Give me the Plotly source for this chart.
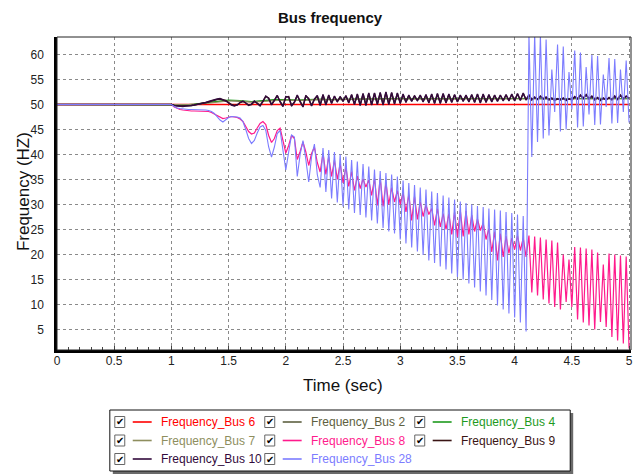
import numpy as np
import plotly.graph_objects as go

# ---------------- data ----------------
# sample times: t=0 plus a 0.025 s grid from 1.0 s to 5.0 s
t_fast = [0.0] + [round(v, 3) for v in np.linspace(1.0, 5.0, 161)]
# coarse grid (0.1 s) for the smooth buses
t_slow = [0.0] + [round(v, 2) for v in np.linspace(1.0, 5.0, 41)]

bus_6_t = [0.0, 5.0]
bus_6 = [50.0, 50.0]

bus_2 = [50.0,
         50.0, 49.8, 50.0, 50.3, 50.6, 50.8, 50.6, 50.5, 50.7, 50.9,
         50.9, 50.8, 50.9, 51.0, 51.0, 51.0, 51.1, 51.1, 51.1, 51.2,
         51.2, 51.1, 51.2, 51.2, 51.1, 51.2, 51.2, 51.2, 51.2, 51.2,
         51.3, 51.2, 51.2, 51.1, 51.2, 51.2, 51.2, 51.3, 51.2, 51.2,
         51.2]
bus_4 = [50.0,
         50.0, 49.9, 50.1, 50.4, 50.7, 50.9, 50.8, 50.6, 50.8, 51.0,
         51.0, 50.9, 51.0, 51.1, 51.0, 51.1, 51.1, 51.1, 51.2, 51.2,
         51.2, 51.2, 51.2, 51.2, 51.2, 51.2, 51.2, 51.2, 51.2, 51.3,
         51.3, 51.3, 51.2, 51.2, 51.2, 51.2, 51.3, 51.3, 51.2, 51.2,
         51.2]
bus_7 = [50.0,
         50.0, 49.9, 50.0, 50.2, 50.5, 50.7, 50.7, 50.5, 50.6, 50.8,
         50.9, 50.8, 50.9, 51.0, 50.9, 51.0, 51.0, 51.1, 51.1, 51.1,
         51.1, 51.1, 51.1, 51.1, 51.1, 51.2, 51.1, 51.1, 51.2, 51.2,
         51.2, 51.2, 51.1, 51.1, 51.1, 51.2, 51.2, 51.2, 51.1, 51.1,
         51.1]

bus_8 = [50.0,
         50.0, 49.5, 49.2, 49.0, 48.9, 48.8, 48.8, 48.7, 48.7, 48.7,
         48.7, 48.7, 48.6, 48.6, 48.4, 48.1, 47.7, 47.4, 47.2, 47.3,
         47.5, 47.6, 47.5, 47.4, 47.1, 46.6, 45.6, 44.6, 44.1, 44.3,
         45.3, 46.2, 46.6, 46.0, 43.8, 42.4, 43.2, 44.8, 45.3, 42.8,
         40.3, 41.8, 43.8, 43.2, 39.0, 40.6, 42.5, 40.5, 37.8, 40.2,
         41.5, 38.4, 36.5, 40.3, 36.0, 39.6, 35.6, 38.9, 35.0, 38.2,
         34.3, 37.5, 33.6, 36.6, 32.8, 35.7, 33.2, 35.1, 33.5, 34.9,
         31.8, 35.2, 29.8, 35.3, 29.6, 34.4, 30.0, 33.4, 30.5, 32.8,
         30.0, 32.4, 28.5, 32.0, 26.8, 31.6, 27.0, 30.6, 27.6, 29.9,
         28.0, 29.2, 25.8, 29.2, 25.5, 28.2, 25.0, 28.2, 24.0, 28.5,
         23.5, 28.8, 23.6, 28.7, 24.0, 27.9, 24.6, 27.1, 24.8, 26.3,
         23.0, 25.2, 20.5, 24.6, 18.8, 24.2, 19.5, 23.7, 20.2, 23.3,
         21.0, 23.8, 20.8, 23.3, 19.5, 23.8, 12.4, 23.6, 11.8, 23.4,
         11.0, 23.0, 10.2, 22.8, 9.5, 22.4, 9.0, 20.0, 10.5, 19.0,
         9.5, 21.5, 7.0, 21.4, 6.4, 21.2, 5.8, 21.0, 5.0, 20.4,
         6.5, 18.0, 5.5, 20.2, 3.5, 20.0, 2.8, 19.8, 2.2, 19.6,
         1.2]

bus_9 = [50.0,
         50.0, 49.8, 49.7, 49.7, 49.7, 49.7, 49.7, 49.8, 49.9, 50.0,
         50.1, 50.2, 50.3, 50.5, 50.7, 50.9, 51.0, 51.1, 51.0, 50.8,
         50.4, 50.0, 49.8, 49.9, 50.4, 50.6, 50.3, 49.9, 50.0, 50.6,
         50.3, 49.8, 50.6, 51.6, 51.3, 50.0, 50.8, 51.8, 50.6, 49.7,
         51.5, 51.6, 49.8, 50.4, 51.8, 50.6, 49.6, 51.7, 51.2, 49.8,
         51.0, 51.7, 49.9, 51.9, 50.0, 51.8, 50.3, 51.6, 50.6, 51.5,
         50.7, 51.7, 50.4, 51.9, 50.1, 52.0, 49.9, 52.1, 49.9, 52.2,
         50.0, 52.2, 50.1, 52.3, 50.0, 52.4, 50.1, 52.3, 50.2, 52.2,
         50.3, 52.0, 50.5, 51.8, 50.7, 51.7, 50.8, 51.8, 50.6, 51.9,
         50.4, 52.0, 50.3, 52.1, 50.3, 52.1, 50.4, 52.0, 50.5, 51.9,
         50.6, 51.8, 50.7, 51.8, 50.6, 51.9, 50.5, 52.0, 50.4, 52.0,
         50.5, 51.9, 50.6, 51.8, 50.7, 51.8, 50.8, 51.9, 50.8, 52.0,
         50.8, 52.1, 50.9, 52.2, 51.0, 51.8, 51.0, 51.4, 51.1, 51.6,
         51.2, 51.4, 51.0, 51.2, 50.9, 51.1, 51.0, 51.2, 50.9, 51.1,
         51.0, 51.5, 51.2, 51.8, 51.3, 51.9, 51.2, 51.6, 51.0, 51.3,
         50.9, 51.2, 51.0, 51.3, 51.0, 51.6, 51.1, 51.8, 51.2, 51.6,
         51.3]

bus_10 = [50.0,
          50.0, 49.8, 49.7, 49.6, 49.6, 49.7, 49.7, 49.8, 49.9, 50.0,
          50.1, 50.2, 50.4, 50.6, 50.8, 50.9, 51.1, 51.2, 51.0, 50.7,
          50.3, 49.9, 49.7, 49.9, 50.4, 50.7, 50.3, 49.8, 50.1, 50.7,
          50.2, 49.7, 50.7, 51.7, 51.2, 49.9, 50.9, 51.8, 50.5, 49.6,
          51.6, 51.5, 49.7, 50.5, 51.9, 50.5, 49.5, 51.8, 51.1, 49.7,
          51.1, 51.8, 49.8, 52.0, 49.9, 51.9, 50.2, 51.7, 50.5, 51.6,
          50.6, 51.8, 50.3, 52.0, 50.0, 52.1, 49.8, 52.2, 49.8, 52.3,
          49.9, 52.3, 50.0, 52.4, 49.9, 52.5, 50.0, 52.4, 50.1, 52.3,
          50.2, 52.1, 50.4, 51.9, 50.6, 51.8, 50.7, 51.9, 50.5, 52.0,
          50.3, 52.1, 50.2, 52.2, 50.2, 52.2, 50.3, 52.1, 50.4, 52.0,
          50.5, 51.9, 50.6, 51.9, 50.5, 52.0, 50.4, 52.1, 50.3, 52.1,
          50.4, 52.0, 50.5, 51.9, 50.6, 51.9, 50.7, 52.0, 50.7, 52.1,
          50.7, 52.2, 50.8, 52.3, 50.9, 52.0, 50.9, 51.5, 51.0, 51.7,
          51.1, 51.5, 50.9, 51.3, 50.8, 51.2, 50.9, 51.3, 50.8, 51.2,
          50.9, 51.6, 51.1, 51.9, 51.2, 52.0, 51.1, 51.7, 50.9, 51.4,
          50.8, 51.3, 50.9, 51.4, 50.9, 51.7, 51.0, 51.9, 51.1, 51.7,
          51.2]

bus_28 = [50.0,
          50.0, 49.6, 49.3, 49.2, 49.1, 49.1, 49.0, 49.0, 49.0, 49.0,
          48.9, 48.9, 48.9, 48.8, 48.6, 48.2, 47.5, 46.9, 46.5, 46.9,
          47.4, 47.6, 47.6, 47.5, 47.3, 46.6, 45.0, 43.2, 42.2, 42.8,
          44.3, 45.5, 45.8, 44.8, 41.5, 39.5, 41.5, 44.2, 44.8, 41.0,
          36.9, 40.5, 43.9, 43.5, 35.6, 40.0, 42.8, 39.0, 34.5, 39.5,
          42.1, 36.0, 33.4, 41.3, 32.5, 40.9, 31.2, 40.5, 30.4, 40.0,
          29.6, 39.6, 29.0, 38.9, 28.3, 38.6, 27.9, 38.1, 27.4, 37.6,
          26.8, 37.0, 26.2, 36.7, 25.3, 36.3, 24.6, 36.0, 24.2, 35.6,
          23.0, 34.8, 22.2, 34.3, 21.4, 33.9, 20.6, 33.4, 19.9, 33.0,
          18.8, 32.6, 18.3, 32.3, 17.6, 31.8, 17.0, 31.4, 16.2, 31.0,
          15.5, 30.6, 15.0, 30.3, 14.2, 30.0, 13.4, 29.7, 12.6, 29.5,
          11.8, 29.2, 10.9, 29.0, 9.8, 28.8, 9.0, 28.5, 8.2, 28.3,
          7.4, 28.0, 6.4, 27.7, 4.6, 64.0, 39.5, 64.0, 42.5, 63.8,
          43.2, 63.0, 43.8, 57.0, 48.5, 62.0, 44.6, 61.6, 45.0, 56.5,
          49.0, 60.8, 45.4, 60.4, 45.6, 57.5, 48.0, 59.9, 45.9, 59.7,
          46.0, 56.0, 49.5, 59.3, 46.2, 59.1, 46.3, 57.0, 48.5, 58.8,
          46.4]

x_ticks = [0, 0.5, 1, 1.5, 2, 2.5, 3, 3.5, 4, 4.5, 5]
x_tick_labels = ["0", "0.5", "1", "1.5", "2", "2.5", "3", "3.5", "4", "4.5", "5"]
y_ticks = [5, 10, 15, 20, 25, 30, 35, 40, 45, 50, 55, 60]
y_tick_labels = [str(v) for v in y_ticks]

series = [
    ("Frequency_Bus 6", bus_6_t, bus_6, "#FF0000", 1.7),
    ("Frequency_Bus 2", t_slow, bus_2, "#5E6040", 1.2),
    ("Frequency_Bus 4", t_slow, bus_4, "#1E9A1E", 1.2),
    ("Frequency_Bus 7", t_slow, bus_7, "#8E8E5E", 1.2),
    ("Frequency_Bus 8", t_fast, bus_8, "#FF1A8C", 1.2),
    ("Frequency_Bus 9", t_fast, bus_9, "#3A1414", 1.4),
    ("Frequency_Bus 10", t_fast, bus_10, "#320A3C", 1.4),
    ("Frequency_Bus 28", t_fast, bus_28, "#7C7CFF", 1.1),
]
for name, tx, vy, *_ in series:
    if len(tx) != len(vy):
        raise ValueError(f"{name}: {len(tx)} times vs {len(vy)} values")

# ---------------- figure ----------------
W, H = 640, 474
L, R, T, B = 57, 7, 37, 124
PW, PH = W - L - R, H - T - B

def px(xpix):
    return (xpix - L) / PW

def py(ypix):
    return (H - B - ypix) / PH

FONT = "Liberation Sans, Arial, sans-serif"
fig = go.Figure()
for name, tx, vy, color, width in series:
    fig.add_trace(go.Scatter(x=tx, y=vy, mode="lines", name=name,
                             line=dict(color=color, width=width),
                             showlegend=False, hoverinfo="skip"))

fig.update_layout(
    width=W, height=H,
    margin=dict(l=L, r=R, t=T, b=B, pad=0),
    paper_bgcolor="white", plot_bgcolor="white",
    font=dict(family=FONT, color="#222222"),
    title=dict(text="<b>Bus frequency</b>", x=330 / W, xanchor="center",
               y=1 - 18 / H, yanchor="middle",
               font=dict(size=15, color="#111111", family=FONT)),
)
fig.update_xaxes(
    range=[0, 5.017], tickmode="array", tickvals=x_ticks, ticktext=x_tick_labels,
    showgrid=True, gridcolor="#8A8A8A", gridwidth=1, griddash="3px,3px",
    showline=True, linecolor="black", linewidth=2.5,
    ticks="inside", ticklen=4, tickcolor="#444", tickwidth=1, ticklabelstandoff=-2,
    minor=dict(dtick=0.1, ticks="inside", ticklen=3, tickcolor="#444", showgrid=False),
    tickfont=dict(size=12, color="#222222"), zeroline=False,
)
fig.update_yaxes(
    range=[0.9, 63.5], tickmode="array", tickvals=y_ticks, ticktext=y_tick_labels,
    showgrid=True, gridcolor="#8A8A8A", gridwidth=1, griddash="3px,3px",
    showline=True, linecolor="black", linewidth=2.5,
    ticks="", ticklabelstandoff=8,
    tickfont=dict(size=12, color="#222222"), zeroline=False,
)

shapes = [dict(type="rect", xref="paper", yref="paper", x0=0, x1=1, y0=0, y1=1,
               line=dict(color="#222", width=1), layer="above")]
annotations = [
    dict(text="Time (sec)", xref="paper", yref="paper", x=px(344), y=py(385),
         showarrow=False, font=dict(size=17, color="#111"), xanchor="center", yanchor="middle"),
    dict(text="Frequency (HZ)", xref="paper", yref="paper", x=px(23), y=py(192),
         showarrow=False, textangle=-90, font=dict(size=17, color="#111"),
         xanchor="center", yanchor="middle"),
]

# ---------------- custom legend with check boxes ----------------
box_l, box_r, box_t, box_b = 110, 572, 410, 471
shapes.append(dict(type="rect", xref="paper", yref="paper",
                   x0=px(box_l + 3), x1=px(box_r + 3), y0=py(box_b + 3), y1=py(box_t + 3),
                   line=dict(width=0), fillcolor="#6a6a6a", layer="above"))
shapes.append(dict(type="rect", xref="paper", yref="paper",
                   x0=px(box_l), x1=px(box_r), y0=py(box_b), y1=py(box_t),
                   line=dict(color="#111", width=1), fillcolor="white", layer="above"))
rows = [422, 440.5, 459]
cols = [115, 265.5, 416]
order = ["Frequency_Bus 6", "Frequency_Bus 2", "Frequency_Bus 4",
         "Frequency_Bus 7", "Frequency_Bus 8", "Frequency_Bus 9",
         "Frequency_Bus 10", "Frequency_Bus 28"]
colors = {s[0]: s[3] for s in series}
for k, name in enumerate(order):
    cy = rows[k // 3]
    cx = cols[k % 3]
    shapes.append(dict(type="rect", xref="paper", yref="paper",
                       x0=px(cx), x1=px(cx + 10), y0=py(cy + 5.5), y1=py(cy - 5.5),
                       line=dict(color="#666", width=1), fillcolor="white", layer="above"))
    annotations.append(dict(text="✔", xref="paper", yref="paper", x=px(cx + 5.5), y=py(cy),
                            showarrow=False, font=dict(size=10, color="#000",
                                                       family="DejaVu Sans"),
                            xanchor="center", yanchor="middle"))
    shapes.append(dict(type="line", xref="paper", yref="paper",
                       x0=px(cx + 18), x1=px(cx + 37), y0=py(cy), y1=py(cy),
                       line=dict(color=colors[name], width=1.6), layer="above"))
    annotations.append(dict(text=name, xref="paper", yref="paper", x=px(cx + 44), y=py(cy),
                            showarrow=False, font=dict(size=12, color=colors[name]),
                            xanchor="left", yanchor="middle"))

fig.update_layout(shapes=shapes, annotations=annotations)
fig.write_html("out.html")
